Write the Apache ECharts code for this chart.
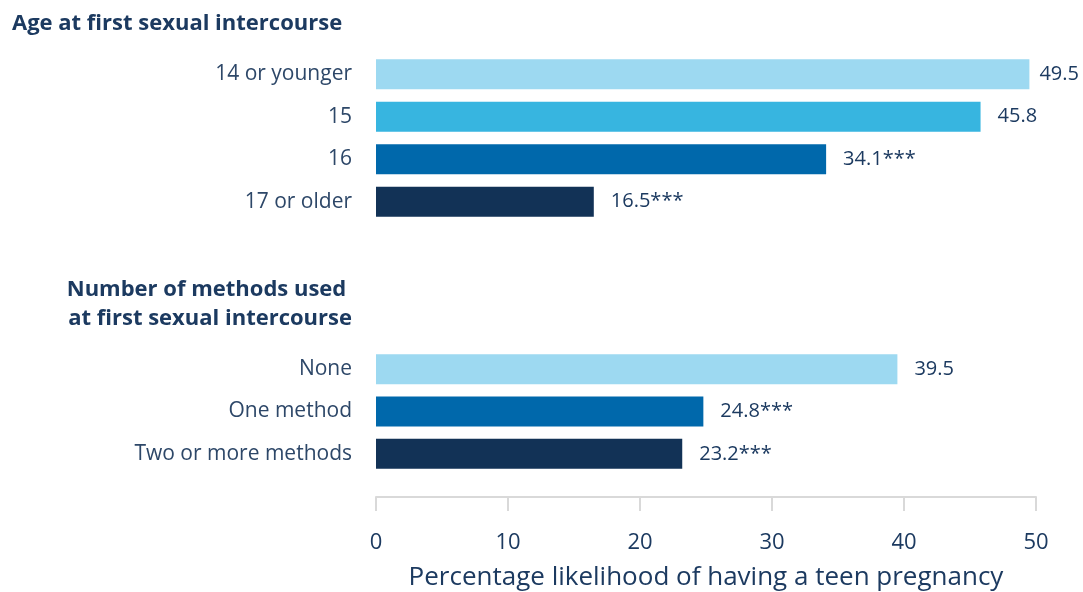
<!DOCTYPE html>
<html>
<head>
<meta charset="utf-8">
<script src="https://cdn.jsdelivr.net/npm/echarts@6/dist/echarts.min.js"></script>
<style>
  html, body { margin: 0; padding: 0; background: #fff; }
  #chart { width: 1083px; height: 592px; }
</style>
</head>
<body>
<div id="chart"></div>
<script>
// data
var ageCats = ['14 or younger', '15', '16', '17 or older'];
var ageValues = [49.5, 45.8, 34.1, 16.5];
var ageSig = ['', '', '***', '***'];
var methodCats = ['None', 'One method', 'Two or more methods'];
var methodValues = [39.5, 24.8, 23.2];
var methodSig = ['', '***', '***'];
var xTicks = [0, 10, 20, 30, 40, 50];

var ageColors = ['#9dd9f1', '#37b5e0', '#0068ab', '#123256'];
var methodColors = ['#9dd9f1', '#0068ab', '#123256'];

var navy = '#1c3a60';
var font = '"Open Sans"';

(function () {
    var chart = echarts.init(document.getElementById('chart'));

    function buildData(vals, sig, colors) {
        return vals.map(function (v, i) {
            var item = { value: v, sig: sig[i], itemStyle: { color: colors[i] } };
            // the longest bar keeps its label closer so it fits in the frame
            if (v === Math.max.apply(null, ageValues)) item.label = { distance: 10 };
            return item;
        });
    }

    var labelStyle = {
        show: true,
        position: 'right',
        distance: 17,
        color: navy,
        fontFamily: font,
        fontSize: 20,
        formatter: function (p) { return p.value + p.data.sig; }
    };

    var catLabel = { color: '#2d4768', fontFamily: font, fontSize: 21, margin: 24 };

    var option = {
        animation: false,
        grid: [
            { left: 376, right: 47, top: 53, height: 170 },
            { left: 376, right: 47, top: 348, height: 128 }
        ],
        xAxis: [
            {
                gridIndex: 0, type: 'value', min: 0, max: 50, interval: 10,
                show: false
            },
            {
                gridIndex: 1, type: 'value', min: xTicks[0], max: xTicks[xTicks.length - 1], interval: 10,
                offset: 22,
                splitLine: { show: false },
                axisLine: { show: true, lineStyle: { color: '#d9d9d9', width: 2 } },
                axisTick: { show: true, length: 14, lineStyle: { color: '#d9d9d9', width: 2 } },
                axisLabel: { color: navy, fontFamily: font, fontSize: 22, margin: 35 },
                name: 'Percentage likelihood of having a teen pregnancy',
                nameLocation: 'middle',
                nameGap: 68,
                nameTextStyle: { color: navy, fontFamily: font, fontSize: 26 }
            }
        ],
        yAxis: [
            {
                gridIndex: 0, type: 'category', data: ageCats, inverse: true,
                axisLine: { show: false }, axisTick: { show: false },
                axisLabel: catLabel
            },
            {
                gridIndex: 1, type: 'category', data: methodCats, inverse: true,
                axisLine: { show: false }, axisTick: { show: false },
                axisLabel: catLabel
            }
        ],
        series: [
            {
                type: 'bar', xAxisIndex: 0, yAxisIndex: 0, barWidth: 30,
                data: buildData(ageValues, ageSig, ageColors),
                label: labelStyle
            },
            {
                type: 'bar', xAxisIndex: 1, yAxisIndex: 1, barWidth: 30,
                data: buildData(methodValues, methodSig, methodColors),
                label: labelStyle
            }
        ],
        graphic: [
            {
                type: 'text', left: 12, top: 13,
                style: { text: 'Age at first sexual intercourse', fill: navy, font: 'bold 22px ' + font }
            },
            {
                type: 'text', x: 352, y: 275,
                style: {
                    text: 'Number of methods used \nat first sexual intercourse',
                    fill: navy, font: 'bold 22px ' + font,
                    align: 'right', lineHeight: 29
                }
            }
        ]
    };
    chart.setOption(option);
})();
</script>
</body>
</html>
